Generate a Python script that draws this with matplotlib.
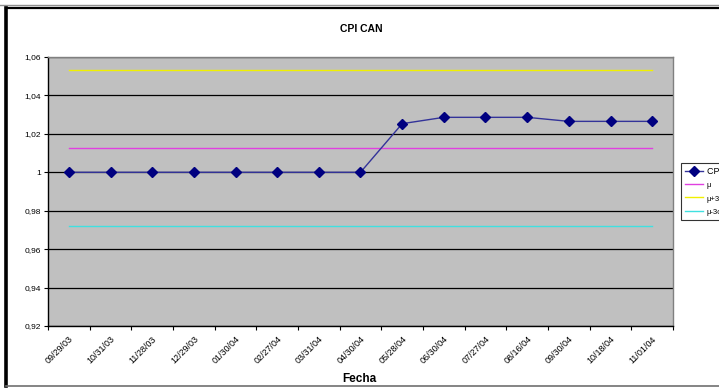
import matplotlib.pyplot as plt
from matplotlib.lines import Line2D

# fechas de observacion (eje de categorias)
fechas = ["09/29/03", "10/31/03", "11/28/03", "12/29/03", "01/30/04",
          "02/27/04", "03/31/04", "04/30/04", "05/28/04", "06/30/04",
          "07/27/04", "08/16/04", "09/30/04", "10/18/04", "11/01/04"]

# indice CPI CAN
cpi_can = [1.0, 1.0, 1.0, 1.0, 1.0, 1.0, 1.0, 1.0,
           1.0253, 1.0286, 1.0286, 1.0286, 1.0265, 1.0265, 1.0265]

# media y bandas de control
mu = 1.0127
mu_mas = 1.0533
mu_menos = 0.9721

yticks = [0.92, 0.94, 0.96, 0.98, 1.0, 1.02, 1.04, 1.06]
ytick_labels = ["0,92", "0,94", "0,96", "0,98", "1", "1,02", "1,04", "1,06"]

plt.rcParams['font.family'] = ['Liberation Sans', 'DejaVu Sans']

fig = plt.figure(figsize=(7.19, 3.88), dpi=100)
W, H = 719, 388

# marco del area del grafico
def fig_line(x0, y0, x1, y1, color, lw):
    fig.add_artist(Line2D([x0 / W, x1 / W], [1 - y0 / H, 1 - y1 / H],
                          transform=fig.transFigure, color=color,
                          linewidth=lw))

fig_line(0, 5, W, 5, '#909090', 1.0)
fig_line(6, 8, W, 8, 'black', 1.6)
fig_line(6, 8, 6, 386, 'black', 2.6)
fig_line(6, 386, W, 386, '#707070', 1.2)

ax = fig.add_axes([48 / W, 62 / H, 625 / W, 269 / H])
ax.set_facecolor('#C0C0C0')

x = list(range(len(fechas)))
ax.plot(x, cpi_can, color='#333399', linewidth=1.0, marker='D',
        markersize=5, markerfacecolor='#000080', markeredgecolor='#000080',
        label='CPI CAN', zorder=5)
ax.plot(x, [mu] * len(x), color='#E040E0', linewidth=1.0, label='μ')
ax.plot(x, [mu_mas] * len(x), color='#F0F000', linewidth=1.0, label='μ+3σ')
ax.plot(x, [mu_menos] * len(x), color='#40E0E0', linewidth=1.0, label='μ-3σ')

ax.set_xlim(-0.5, len(fechas) - 0.5)
ax.set_ylim(0.92, 1.06)
ax.set_yticks(yticks)
ax.set_yticklabels(ytick_labels, fontsize=6)
ax.yaxis.grid(True, color='black', linewidth=0.9)
ax.set_axisbelow(True)

# marcas entre categorias, etiquetas centradas en cada categoria
ax.set_xticks([i - 0.5 for i in range(len(fechas) + 1)])
ax.set_xticklabels([])
ax.set_xticks(x, minor=True)
ax.set_xticklabels(fechas, minor=True, rotation=45, ha='right',
                   rotation_mode='anchor', fontsize=6.5)
ax.tick_params(axis='x', which='minor', length=0, pad=6)
ax.tick_params(axis='x', which='major', length=3, width=0.8)
ax.tick_params(axis='y', length=3, width=0.8, pad=2)

for side in ['left', 'bottom']:
    ax.spines[side].set_color('black')
    ax.spines[side].set_linewidth(1.0)
for side in ['top', 'right']:
    ax.spines[side].set_color('#808080')
    ax.spines[side].set_linewidth(1.0)

fig.text(361 / W, 1 - 29 / H, 'CPI CAN', ha='center', va='center',
         fontsize=7.5, fontweight='bold')
fig.text(359 / W, 1 - 379 / H, 'Fecha', ha='center', va='center',
         fontsize=8.5, fontweight='bold')

leg = fig.legend(loc='upper left', bbox_to_anchor=(681 / W, 1 - 163 / H),
                 borderaxespad=0, fontsize=6.5, frameon=True, fancybox=False,
                 borderpad=0.45, labelspacing=0.55, handlelength=2.0,
                 handletextpad=0.4)
leg.get_frame().set_edgecolor('black')
leg.get_frame().set_linewidth(0.8)
for txt in leg.get_texts()[1:]:
    txt.set_fontsize(5.5)

fig.savefig('out.png', dpi=100)
